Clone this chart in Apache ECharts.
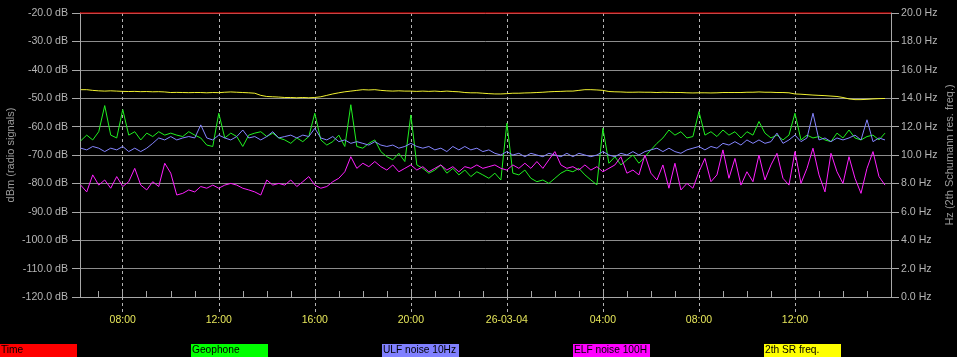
<!DOCTYPE html>
<html><head><meta charset="utf-8">
<script src="https://cdn.jsdelivr.net/npm/echarts@6/dist/echarts.min.js"></script>
<style>html,body{margin:0;padding:0;background:#000;}#c{width:957px;height:357px;}</style>
</head><body><div id="c"></div>
<script>
// ---- data ----
const startHour = 6.25;      // first sample (hours from 25-03-04 00:00)
const stepHours = 0.25;      // sampling step
const axisStart = 6.22, axisEnd = 40;
const xLabelHours = [8, 12, 16, 20, 24, 28, 32, 36];
const xLabels = ['08:00', '12:00', '16:00', '20:00', '26-03-04', '04:00', '08:00', '12:00'];
const hourTicks = [7,8,9,10,11,12,13,14,15,16,17,18,19,20,21,22,23,24,25,26,27,28,29,30,31,32,33,34,35,36,37,38,39];
const seriesNames = ['Time', 'Geophone', 'ULF noise 10Hz', 'ELF noise 100H', '2th SR freq.'];
const seriesColors = ['#ff0000', '#00ff00', '#8080ff', '#ff00ff', '#ffff00'];
const timeHours = [6.22, 40];
const timeLine = [-20, -20];
const geophone = [
 -65,-63,-64.7,-61.8,-52.6,-63,-64,-54,-63,-61.8,
 -64.7,-62.3,-63.5,-61.8,-63,-62.3,-63,-63.5,-61.8,-63,
 -64,-66.5,-67,-55.3,-64,-62.3,-63.5,-67,-63,-62.3,
 -61.8,-63.5,-62.3,-64,
 -64.7,-65.9,-64,-65.3,-63.5,-55.3,-64.7,-66.5,-65.3,-63,
 -67,-52.3,-67,-67.6,-65.9,-64.7,-68.8,-70.6,-71.7,-69.4,
 -72.3,-55.9,-73.5,-74.7,-76.4,-75.3,-73.5,-76.4,-74.7,-77,
 -75.3,-77.6,-75.9,-77,
 -78.2,-76.4,-78.8,-58.8,-76.4,-77,-75.3,-78.2,-79.4,-78.8,
 -80,-78.2,-76.4,-75.3,-75.9,-74.7,-77,-78.8,-80.5,-60.6,
 -72.9,-70.6,-73.5,-71.7,-70,-72.9,-70.6,-68.2,-65.9,-64,
 -61.2,-63,-61.8,
 -64,-63.5,-54.7,-63,-61.8,-63.5,-61.2,-63,-61.8,-64,
 -61.8,-63,-58.2,-62.3,-64,-63,-64.7,-63,-55.3,-64.7,
 -63,-64,-63.5,-64.7,-65.3,-62.3,-64,-61.2,-64,-64.7,
 -63.5,-63,-64.7,-62.3
];
const ulf = [
 -67.6,-68.2,-67,-67.6,-68.8,-67.6,-68.2,-67,-68.8,-67.6,
 -68.8,-67.6,-65.9,-64,-64.7,-63.5,-64.7,-64,-63.5,-64,
 -59.4,-64,-64.7,-63,-64,-64.7,-63.5,-61.2,-64,-63.5,
 -64.7,-63.5,-61.8,-64,
 -63.5,-63,-64,-63,-63.5,-60.6,-64,-64.7,-63.5,-65.3,
 -64.7,-65.9,-65.3,-65.9,-66.5,-65.3,-66.5,-67,-66.5,-67.6,
 -67,-65.9,-67,-67.6,-67,-68.2,-67.6,-68.8,-67,-68.2,
 -67,-68.2,-67.6,-68.8,
 -68.2,-69.4,-70,-68.8,-70,-69.4,-70.6,-69.4,-70,-70.6,
 -69.4,-70,-70.6,-69.4,-70.6,-69.4,-70,-70.6,-70,-68.8,
 -70,-70.6,-69.4,-70,-68.8,-70,-68.8,-68.2,-67.6,-68.8,
 -67.6,-68.8,-69.4,
 -68.2,-67.6,-67,-68.2,-67,-67.6,-65.9,-66.5,-65.3,-66.5,
 -64.7,-65.9,-64.7,-65.9,-65.3,-62.3,-65.9,-64.7,-63,-65.3,
 -64,-55.3,-64.7,-64,-65.3,-64,-64.7,-64,-63,-64.7,
 -57.6,-65.3,-64,-64.7
];
const elf = [
 -80.6,-83,-77,-80.6,-78.8,-81.7,-77.6,-81.1,-79.4,-74.7,
 -80.6,-82.3,-79.4,-81.1,-72.9,-76.4,-84.1,-83.5,-82.3,-83,
 -81.1,-81.7,-80.6,-81.7,-80.6,-80,-80.6,-81.7,-82.3,-83,
 -84.1,-78.8,-80.6,-80,
 -80.6,-78.8,-81.1,-79.4,-77.6,-80.6,-81.7,-81.1,-79.4,-78.2,
 -75.9,-70.6,-74.7,-72.9,-74.1,-72.3,-74.1,-75.3,-73.5,-75.9,
 -74.7,-73.5,-75.3,-74.1,-75.9,-74.7,-73.5,-75.3,-74.1,-75.9,
 -74.1,-74.7,-73.5,-74.7,
 -74.1,-73.5,-74.7,-75.3,-73.5,-74.7,-72.9,-74.7,-72.3,-74.7,
 -71.7,-68.8,-73.5,-74.7,-74.1,-75.3,-73.5,-75.3,-74.1,-75.9,
 -74.7,-73.5,-70.6,-76.4,-75.3,-77,-70,-76.4,-78.8,-73.5,
 -81.7,-72.9,-82.3,
 -80,-81.7,-75.9,-71.2,-79.4,-77,-68.2,-78.2,-71.2,-80.6,
 -75.9,-79.4,-70,-78.8,-73.5,-69.4,-78.2,-80.6,-68.8,-80,
 -74.7,-67.6,-77,-83,-69.4,-75.9,-80,-70.6,-78.2,-83.5,
 -74.7,-68.8,-77.6,-80.6
];
const srFreq = [
 14.6,14.6,14.55,14.52,14.5,14.52,14.5,14.48,14.47,14.48,
 14.46,14.47,14.45,14.46,14.44,14.4,14.41,14.4,14.39,14.4,
 14.4,14.38,14.4,14.39,14.42,14.44,14.42,14.4,14.38,14.35,
 14.2,14.12,14.1,14.08,
 14.05,14.05,14.03,14.05,14.03,14.05,14.1,14.2,14.3,14.38,
 14.45,14.5,14.55,14.6,14.58,14.6,14.55,14.52,14.5,14.52,
 14.5,14.5,14.48,14.5,14.48,14.5,14.47,14.5,14.47,14.45,
 14.4,14.38,14.38,14.35,
 14.32,14.3,14.3,14.32,14.35,14.35,14.37,14.38,14.4,14.42,
 14.45,14.47,14.48,14.5,14.5,14.55,14.6,14.6,14.58,14.55,
 14.47,14.45,14.44,14.42,14.42,14.43,14.42,14.42,14.4,14.42,
 14.41,14.4,14.4,
 14.38,14.37,14.38,14.38,14.37,14.38,14.4,14.4,14.4,14.4,
 14.42,14.42,14.44,14.42,14.42,14.4,14.4,14.38,14.3,14.28,
 14.25,14.22,14.2,14.18,14.15,14.12,14.05,13.95,13.9,13.9,
 13.92,13.95,13.97,13.98
];

// ---- chart ----
const FONT = "'Liberation Sans', Arial, sans-serif";
const toPairs = arr => arr.map((v, i) => [startHour + i * stepHours, v]);
const lineColors = ['#ff0000', '#20f020', '#8585ff', '#ff20ff', '#f0f030'];

const chart = echarts.init(document.getElementById('c'), null, {renderer: 'canvas'});

const legendGraphics = [];
seriesNames.forEach((n, i) => {
  legendGraphics.push({type: 'rect', left: i * 191, top: 344, shape: {width: 77, height: 14}, style: {fill: seriesColors[i]}, silent: true});
  legendGraphics.push({type: 'text', left: i * 191 + 1, top: 345, style: {text: n, fill: '#000', font: '10.2px ' + FONT}, silent: true});
});

const mkSeries = (name, data, color, yIdx, z, extra) => Object.assign({
  name, type: 'line', data, yAxisIndex: yIdx, xAxisIndex: 0,
  showSymbol: false, symbol: 'none', animation: false, z,
  lineStyle: {color, width: 1}, itemStyle: {color}
}, extra || {});

chart.setOption({
  backgroundColor: '#000',
  animation: false,
  grid: {left: 80, right: 66, top: 13, bottom: 60, containLabel: false, outerBoundsMode: 'none'},
  xAxis: [
    {type: 'value', min: axisStart, max: axisEnd, position: 'bottom',
     axisLine: {show: true, onZero: false, lineStyle: {color: '#a8a8a8', width: 1}},
     axisTick: {show: true, inside: true, length: 6, customValues: hourTicks, lineStyle: {color: '#a8a8a8'}},
     axisLabel: {show: true, customValues: xLabelHours, margin: 18, color: '#e6e65a', fontSize: 10.5, fontFamily: FONT,
       formatter: v => xLabels[xLabelHours.indexOf(Math.round(v))]},
     splitLine: {show: false}},
    {type: 'value', min: axisStart, max: axisEnd, position: 'bottom',
     axisLine: {show: false},
     axisTick: {show: true, inside: false, length: 16, customValues: xLabelHours, lineStyle: {color: '#b4b4b4', type: [3, 3]}},
     axisLabel: {show: false},
     splitLine: {show: true, lineStyle: {color: '#b4b4b4', type: [3, 3], width: 1}}}
  ],
  yAxis: [
    {type: 'value', min: -120, max: -20, interval: 10, position: 'left',
     name: 'dBm (radio signals)', nameLocation: 'middle', nameGap: 64, nameMoveOverlap: false,
     nameTextStyle: {color: '#9a9a9a', fontSize: 11, fontFamily: FONT},
     axisLine: {show: true, lineStyle: {color: '#a8a8a8'}},
     axisTick: {show: true, length: 8, lineStyle: {color: '#a8a8a8'}},
     axisLabel: {margin: 12, color: '#b4b4b4', fontSize: 10.6, fontFamily: FONT, formatter: v => v.toFixed(1) + ' dB'},
     splitLine: {show: true, lineStyle: {color: '#8c8c8c', width: 1}}},
    {type: 'value', min: 0, max: 20, interval: 2, position: 'right',
     name: 'Hz (2th Schumann res. freq.)', nameLocation: 'middle', nameGap: 53, nameMoveOverlap: false,
     nameTextStyle: {color: '#9a9a9a', fontSize: 11, fontFamily: FONT},
     axisLine: {show: true, lineStyle: {color: '#a8a8a8'}},
     axisTick: {show: true, length: 8, lineStyle: {color: '#a8a8a8'}},
     axisLabel: {margin: 10, color: '#b4b4b4', fontSize: 10.6, fontFamily: FONT, formatter: v => v.toFixed(1) + ' Hz'},
     splitLine: {show: false}}
  ],
  graphic: legendGraphics,
  series: [
    mkSeries(seriesNames[0], timeHours.map((h, i) => [h, timeLine[i]]), lineColors[0], 0, 5, {clip: false}),
    mkSeries(seriesNames[1], toPairs(geophone), lineColors[1], 0, 2),
    mkSeries(seriesNames[2], toPairs(ulf), lineColors[2], 0, 3),
    mkSeries(seriesNames[3], toPairs(elf), lineColors[3], 0, 4),
    mkSeries(seriesNames[4], toPairs(srFreq), lineColors[4], 1, 5)
  ]
});
</script>
</body></html>
